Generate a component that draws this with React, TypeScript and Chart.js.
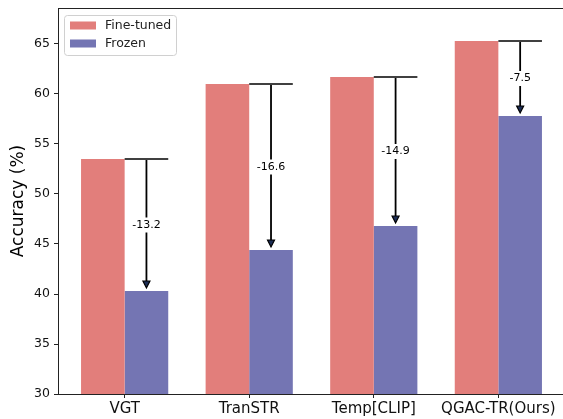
import React, { useEffect, useRef } from "react";
import { Chart, registerables } from "chart.js";

Chart.register(...registerables);

const categories = ["VGT", "TranSTR", "Temp[CLIP]", "QGAC-TR(Ours)"];
const fineTuned = [53.5, 61.0, 61.7, 65.3];
const frozen = [40.3, 44.4, 46.8, 57.8];
const yTicks = [30, 35, 40, 45, 50, 55, 60, 65];
const seriesLabels = ["Fine-tuned", "Frozen"];
const colors = ["#E27E7B", "#7475B3"];

const FONT = "'DejaVu Sans', sans-serif";

const annotatePlugin = {
  id: "annotateDrops",
  afterDatasetsDraw(chart: any) {
    const ctx = chart.ctx;
    const y = chart.scales.y;
    const area = chart.chartArea;
    const metaFrozen = chart.getDatasetMeta(1);
    ctx.save();
    // top spine
    ctx.strokeStyle = "#222";
    ctx.lineWidth = 1;
    ctx.beginPath();
    ctx.moveTo(area.left, area.top + 0.5);
    ctx.lineTo(area.right, area.top + 0.5);
    ctx.stroke();

    for (let i = 0; i < categories.length; i++) {
      const bar = metaFrozen.data[i];
      const props = bar.getProps(["x", "width"], true);
      const bx = props.x;
      const bw = props.width;
      const yTop = y.getPixelForValue(fineTuned[i]);
      const yBot = y.getPixelForValue(frozen[i]);
      // horizontal line
      ctx.strokeStyle = "#000";
      ctx.lineWidth = 1.5;
      ctx.beginPath();
      ctx.moveTo(bx - bw / 2, yTop);
      ctx.lineTo(bx + bw / 2, yTop);
      ctx.stroke();
      // vertical arrow
      const tipY = yBot - 3;
      const headH = 7;
      ctx.lineWidth = 1.8;
      ctx.beginPath();
      ctx.moveTo(bx, yTop + 1);
      ctx.lineTo(bx, tipY - headH + 1);
      ctx.stroke();
      ctx.beginPath();
      ctx.moveTo(bx - 3.5, tipY - headH);
      ctx.lineTo(bx + 3.5, tipY - headH);
      ctx.lineTo(bx, tipY);
      ctx.closePath();
      ctx.fillStyle = "#1c2d55";
      ctx.fill();
      ctx.lineWidth = 1.2;
      ctx.stroke();
      // label
      const diff = (frozen[i] - fineTuned[i]).toFixed(1);
      const my = (yTop + yBot) / 2;
      ctx.font = `11px ${FONT}`;
      const tw = ctx.measureText(diff).width;
      ctx.fillStyle = "#fff";
      ctx.fillRect(bx - tw / 2 - 2, my - 7.5, tw + 4, 15);
      ctx.fillStyle = "#000";
      ctx.textAlign = "center";
      ctx.textBaseline = "middle";
      ctx.fillText(diff, bx, my);
    }

    // legend
    const lx = area.left + 6.5;
    const ly = area.top + 7.5;
    const lw = 112;
    const lh = 40;
    ctx.beginPath();
    ctx.roundRect(lx, ly, lw, lh, 3);
    ctx.fillStyle = "rgba(255,255,255,0.85)";
    ctx.fill();
    ctx.strokeStyle = "#d0d0d0";
    ctx.lineWidth = 1;
    ctx.stroke();
    ctx.font = `12.5px ${FONT}`;
    ctx.textAlign = "left";
    ctx.textBaseline = "middle";
    chart.data.datasets.forEach((ds: any, k: number) => {
      const cy = ly + 10 + k * 18;
      ctx.fillStyle = ds.backgroundColor;
      ctx.fillRect(lx + 5.5, cy - 4, 26, 8);
      ctx.fillStyle = "#222";
      ctx.fillText(ds.label, lx + 40.5, cy + 0.5);
    });
    ctx.restore();
  },
};

export default function App() {
  const ref = useRef<HTMLCanvasElement | null>(null);
  useEffect(() => {
    if (!ref.current) return;
    const chart = new Chart(ref.current, {
      type: "bar",
      data: {
        datasets: [
          {
            label: seriesLabels[0],
            data: fineTuned.map((v, i) => ({ x: i, y: v })),
            backgroundColor: colors[0],
            borderWidth: 0,
          },
          {
            label: seriesLabels[1],
            data: frozen.map((v, i) => ({ x: i, y: v })),
            backgroundColor: colors[1],
            borderWidth: 0,
          },
        ],
      },
      options: {
        animation: false,
        responsive: false,
        devicePixelRatio: 1,
        categoryPercentage: 0.7,
        barPercentage: 1.0,
        layout: { padding: { top: 8, left: 0, right: 0, bottom: 0 } },
        plugins: { legend: { display: false }, tooltip: { enabled: false } },
        scales: {
          x: {
            type: "linear",
            min: -0.535,
            max: 3.535,
            offset: false,
            afterBuildTicks: (axis: any) => {
              axis.ticks = categories.map((_, i) => ({ value: i }));
            },
            afterFit: (axis: any) => {
              axis.height = 25;
              axis.paddingLeft = 0;
              axis.paddingRight = 0;
            },
            grid: {
              offset: false,
              drawOnChartArea: false,
              drawTicks: true,
              tickLength: 4,
              tickColor: "#222",
            },
            border: { display: true, color: "#222", width: 1 },
            ticks: {
              autoSkip: false,
              maxRotation: 0,
              padding: 2,
              color: "#111",
              font: { family: FONT, size: 15 },
              callback: (v: any) => categories[v as number] ?? "",
            },
          },
          y: {
            min: 30,
            max: 68.6,
            afterBuildTicks: (axis: any) => {
              axis.ticks = yTicks.map((v) => ({ value: v }));
            },
            afterFit: (axis: any) => {
              axis.width = 58;
              axis.paddingTop = 0;
              axis.paddingBottom = 0;
            },
            grid: {
              drawOnChartArea: false,
              drawTicks: true,
              tickLength: 4,
              tickColor: "#222",
            },
            border: { display: true, color: "#222", width: 1 },
            ticks: {
              padding: 4,
              color: "#111",
              font: { family: FONT, size: 12.5 },
            },
            title: {
              display: true,
              text: "Accuracy (%)",
              color: "#000",
              font: { family: FONT, size: 17 },
              padding: { top: 8, bottom: 0 },
            },
          },
        },
      },
      plugins: [annotatePlugin],
    });
    return () => chart.destroy();
  }, []);
  return (
    <div style={{ position: "fixed", left: 0, top: 0, width: 565, height: 419, background: "#fff" }}>
      <canvas ref={ref} width={565} height={419} style={{ display: "block" }} />
    </div>
  );
}
